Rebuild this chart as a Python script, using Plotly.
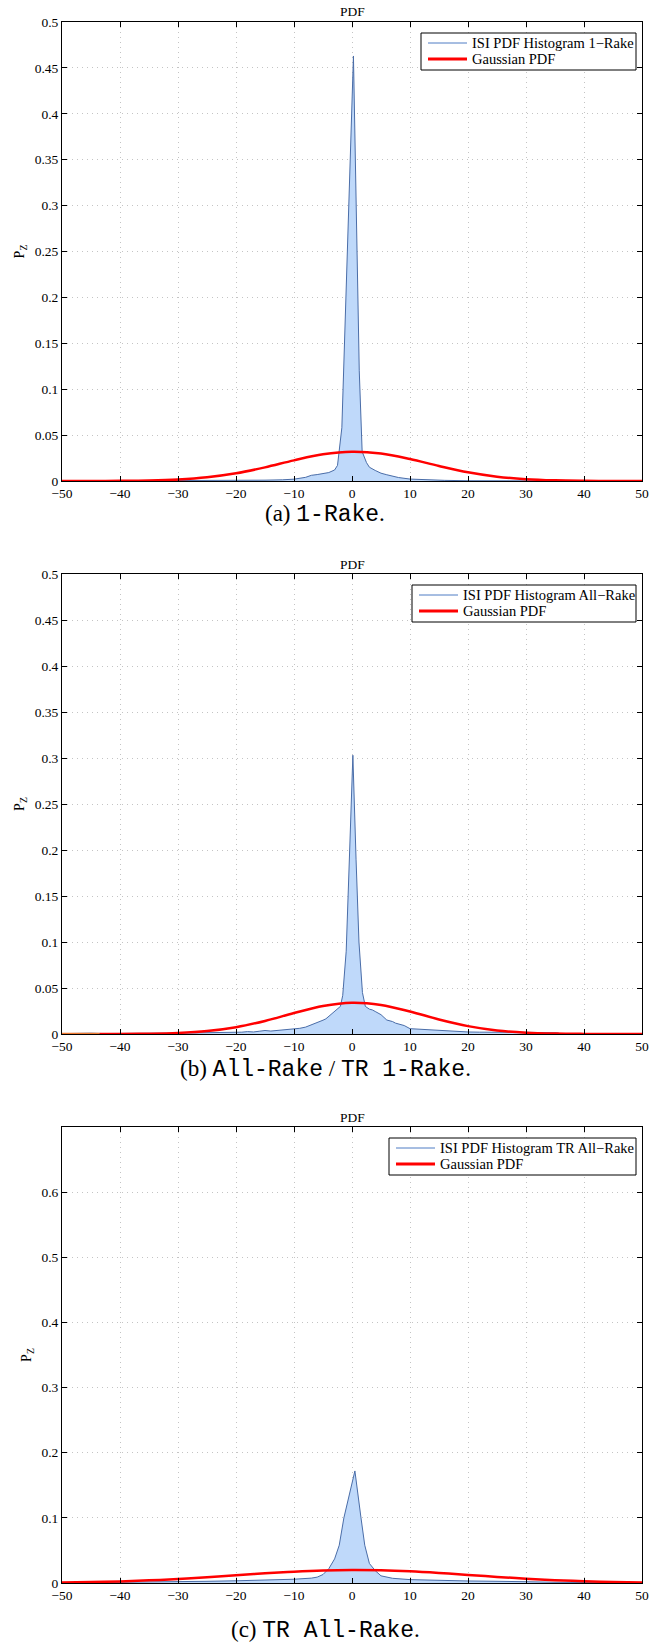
import plotly.graph_objects as go

# ---------------- data ----------------
# Panel (a) 1-Rake
hist1_x = [-50, -30, -20, -16, -15, -12, -10, -8, -7, -6, -5, -4, -3, -2.5, -1.75, 0.25, 1.25, 1.75,
           2.5, 3, 4, 5, 6, 7, 8, 10, 12, 14, 16, 20, 30, 50]
hist1_y = [0, 0.0001, 0.0003, 0.0006, 0.0009, 0.0013, 0.002, 0.004, 0.0062, 0.007, 0.0078, 0.0092,
           0.012, 0.017, 0.058, 0.463, 0.12, 0.032, 0.02, 0.015, 0.0115, 0.0085, 0.0068, 0.0052,
           0.0038, 0.0021, 0.0015, 0.0011, 0.0007, 0.0003, 0.0001, 0]
gauss1_x = [-50, -45, -40, -35, -30, -25, -20, -15, -10, -5, 0, 5, 10, 15, 20, 25, 30, 35, 40, 45, 50]
gauss1_y = [0.00001, 0.00004, 0.00017, 0.00057, 0.00163, 0.0040, 0.00834, 0.01484, 0.02249, 0.02905,
            0.03197, 0.02999, 0.02397, 0.01633, 0.00948, 0.00469, 0.00197, 0.00071, 0.00022,
            0.00006, 0.00001]

# Panel (b) All-Rake
hist2_x = [-50, -47, -45, -43, -40, -37, -35, -32, -30, -28, -26, -24, -22, -20, -19, -18, -17, -16,
           -15, -14, -13, -12, -11, -10, -9, -8, -7, -6, -5, -4.5, -4, -3, -2, -1.6, -1.0, -0.4,
           0.15, 0.7, 1.2, 1.8, 2.3, 3, 3.5, 4, 5, 6, 7, 7.5, 8, 8.5, 9, 10, 11, 12, 13, 14, 15,
           16, 17, 18, 20, 22, 24, 26, 28, 30, 32, 34, 35.5, 36, 50]
hist2_y = [0.0004, 0.0008, 0.0009, 0.0005, 0.0004, 0.0006, 0.0007, 0.0009, 0.0010, 0.0011, 0.0013,
           0.0012, 0.0016, 0.0015, 0.0020, 0.0026, 0.0022, 0.0030, 0.0038, 0.0032, 0.0037, 0.0040,
           0.0052, 0.0058, 0.0062, 0.0075, 0.0098, 0.0128, 0.0150, 0.0165, 0.0192, 0.0245, 0.030,
           0.042, 0.09, 0.2, 0.303, 0.19, 0.10, 0.045, 0.030, 0.027, 0.0262, 0.0245, 0.021, 0.0152,
           0.0135, 0.0118, 0.0112, 0.0098, 0.0092, 0.0058, 0.0054, 0.0048, 0.0044, 0.0046, 0.0040,
           0.0035, 0.0030, 0.0028, 0.0022, 0.0020, 0.0021, 0.0019, 0.0017, 0.0018, 0.0016, 0.0014,
           0.0012, 0.0, 0.0]
gauss2_x = [-43.5, -40, -35, -30, -25, -20, -15, -10, -5, 0, 5, 10, 15, 20, 25, 30, 35, 40, 45, 50]
gauss2_y = [0.00003, 0.00009, 0.00035, 0.00116, 0.0032, 0.00738, 0.0142, 0.02278, 0.03046, 0.03397,
            0.03159, 0.02449, 0.01584, 0.00854, 0.00384, 0.00144, 0.00045, 0.00012, 0.00003, 0.0]
orange2_x = [-50, -43.5]
orange2_y = [0, 0]

# Panel (c) TR All-Rake
hist3_x = [-50, -40, -35, -30, -25, -20, -15, -10, -7, -6, -5, -4, -3, -2.2, -1.4, 0.5, 1.55, 2.2,
           3, 4, 5, 7, 10, 15, 20, 25, 28, 30, 35, 40, 45, 50]
hist3_y = [0.0003, 0.0008, 0.0012, 0.0022, 0.0026, 0.0034, 0.0042, 0.0058, 0.0075, 0.009, 0.013,
           0.022, 0.037, 0.058, 0.1, 0.172, 0.1, 0.058, 0.03, 0.019, 0.011, 0.0072, 0.0052, 0.0038,
           0.0031, 0.0026, 0.0025, 0.0020, 0.0011, 0.0005, 0.0002, 0.0]
gauss3_x = [-50, -45, -40, -35, -30, -25, -20, -15, -10, -5, 0, 5, 10, 15, 20, 25, 30, 35, 40, 45, 50]
gauss3_y = [0.00078, 0.00143, 0.00248, 0.00403, 0.00613, 0.00877, 0.01176, 0.0148, 0.01746, 0.01934,
            0.0201, 0.01959, 0.01792, 0.01537, 0.01238, 0.00935, 0.00663, 0.0044, 0.00275, 0.00161,
            0.00088]

hist_names = ["ISI PDF Histogram 1\u2212Rake", "ISI PDF Histogram All\u2212Rake",
              "ISI PDF Histogram TR All\u2212Rake"]
gauss_name = "Gaussian PDF"
x_ticks = [-50, -40, -30, -20, -10, 0, 10, 20, 30, 40, 50]
y_ticks_ab = [0, 0.05, 0.1, 0.15, 0.2, 0.25, 0.3, 0.35, 0.4, 0.45, 0.5]
y_ticks_c = [0, 0.1, 0.2, 0.3, 0.4, 0.5, 0.6]
y_ranges = [[0, 0.5], [0, 0.5], [0, 0.7]]

SERIF = "Liberation Serif"
MONO = "Liberation Mono"


def cap(parts):
    out = ""
    for txt, mono in parts:
        fam = MONO if mono else SERIF
        out += "<span style=\"font-family:'%s'\">%s</span>" % (fam, txt)
    return out


captions = [
    cap([("(a) ", False), ("1-Rake", True), (".", False)]),
    cap([("(b) ", False), ("All-Rake", True), (" / ", False), ("TR 1-Rake", True), (".", False)]),
    cap([("(c) ", False), ("TR All-Rake", True), (".", False)]),
]

# ---------------- layout geometry ----------------
W, H = 650, 1645
x_left, x_right = 62, 642
panels_px = [(22, 481), (574, 1034), (1127, 1583)]  # top, bottom in pixels
caption_px = [515, 1070, 1630]
legend_left_px = [421, 412, 389]
legend_right_px = 636

HIST_LINE = "#4A6DA8"
HIST_LEG = "#4F7CC4"
HIST_FILL = "rgba(191,217,250,1)"
GRID = "#C4C4C4"

fig = go.Figure()

hist_x = [hist1_x, hist2_x, hist3_x]
hist_y = [hist1_y, hist2_y, hist3_y]
gauss_x = [gauss1_x, gauss2_x, gauss3_x]
gauss_y = [gauss1_y, gauss2_y, gauss3_y]

for i in range(3):
    ax = "" if i == 0 else str(i + 1)
    fig.add_trace(go.Scatter(x=hist_x[i], y=hist_y[i], mode="lines", fill="tozeroy",
                             fillcolor=HIST_FILL, line=dict(color=HIST_LINE, width=1),
                             name=hist_names[i], showlegend=False,
                             xaxis="x" + ax, yaxis="y" + ax))
    if i == 1:
        fig.add_trace(go.Scatter(x=orange2_x, y=orange2_y, mode="lines",
                                 line=dict(color="#F07A30", width=2.5), showlegend=False,
                                 xaxis="x" + ax, yaxis="y" + ax))
    fig.add_trace(go.Scatter(x=gauss_x[i], y=gauss_y[i], mode="lines",
                             line=dict(color="#FF0000", width=2.5, shape="spline", smoothing=1.0),
                             name=gauss_name, showlegend=False, xaxis="x" + ax, yaxis="y" + ax))

layout = dict(width=W, height=H, margin=dict(l=0, r=0, t=0, b=0, autoexpand=False),
              paper_bgcolor="white", plot_bgcolor="white", showlegend=False,
              font=dict(family=SERIF, size=13, color="black"))


def px(xp):
    return xp / W


def py(yp):
    return (H - yp) / H


annotations = []
shapes = []
for i in range(3):
    ax = "" if i == 0 else str(i + 1)
    top, bot = panels_px[i]
    dom_y = [py(bot), py(top)]
    common = dict(showline=True, linecolor="black", linewidth=1, mirror="ticks",
                  ticks="inside", ticklen=5, tickcolor="black", showgrid=True,
                  gridcolor=GRID, griddash="1px,4px", gridwidth=1, zeroline=False,
                  automargin=False,
                  tickfont=dict(family=SERIF, size=13.5, color="black"))
    layout["xaxis" + ax] = dict(domain=[px(x_left), px(x_right)], range=[-50, 50],
                                tickvals=x_ticks, anchor="y" + ax, **common)
    layout["yaxis" + ax] = dict(domain=dom_y, range=y_ranges[i],
                                tickvals=y_ticks_c if i == 2 else y_ticks_ab,
                                anchor="x" + ax,
                                title=dict(text="P<sub>Z</sub>", standoff=6,
                                           font=dict(family=SERIF, size=14)),
                                **common)
    # title
    annotations.append(dict(text="PDF", x=px((x_left + x_right) / 2), y=py(top - 10),
                            xref="paper", yref="paper", xanchor="center", yanchor="middle",
                            showarrow=False, font=dict(family=SERIF, size=13.5)))
    # caption
    annotations.append(dict(text=captions[i], x=0.5, y=py(caption_px[i]),
                            xref="paper", yref="paper", xanchor="center", yanchor="middle",
                            showarrow=False, font=dict(family=SERIF, size=23)))
    # legend box (drawn by hand)
    lt, lb = top + 11, top + 48
    ll = legend_left_px[i]
    shapes.append(dict(type="rect", xref="paper", yref="paper", x0=px(ll), x1=px(legend_right_px),
                       y0=py(lb), y1=py(lt), line=dict(color="black", width=1),
                       fillcolor="white", layer="above"))
    row1, row2 = lt + 10, lt + 26
    shapes.append(dict(type="line", xref="paper", yref="paper", x0=px(ll + 7), x1=px(ll + 46),
                       y0=py(row1), y1=py(row1), line=dict(color=HIST_LEG, width=1), layer="above"))
    shapes.append(dict(type="line", xref="paper", yref="paper", x0=px(ll + 7), x1=px(ll + 46),
                       y0=py(row2), y1=py(row2), line=dict(color="#FF0000", width=3), layer="above"))
    annotations.append(dict(text=hist_names[i], x=px(ll + 49), y=py(row1), xref="paper",
                            yref="paper", xanchor="left", yanchor="middle", showarrow=False,
                            font=dict(family=SERIF, size=14.5)))
    annotations.append(dict(text=gauss_name, x=px(ll + 49), y=py(row2), xref="paper",
                            yref="paper", xanchor="left", yanchor="middle", showarrow=False,
                            font=dict(family=SERIF, size=14.5)))
layout["annotations"] = annotations
layout["shapes"] = shapes

fig.update_layout(**layout)
fig.write_html("out.html")
